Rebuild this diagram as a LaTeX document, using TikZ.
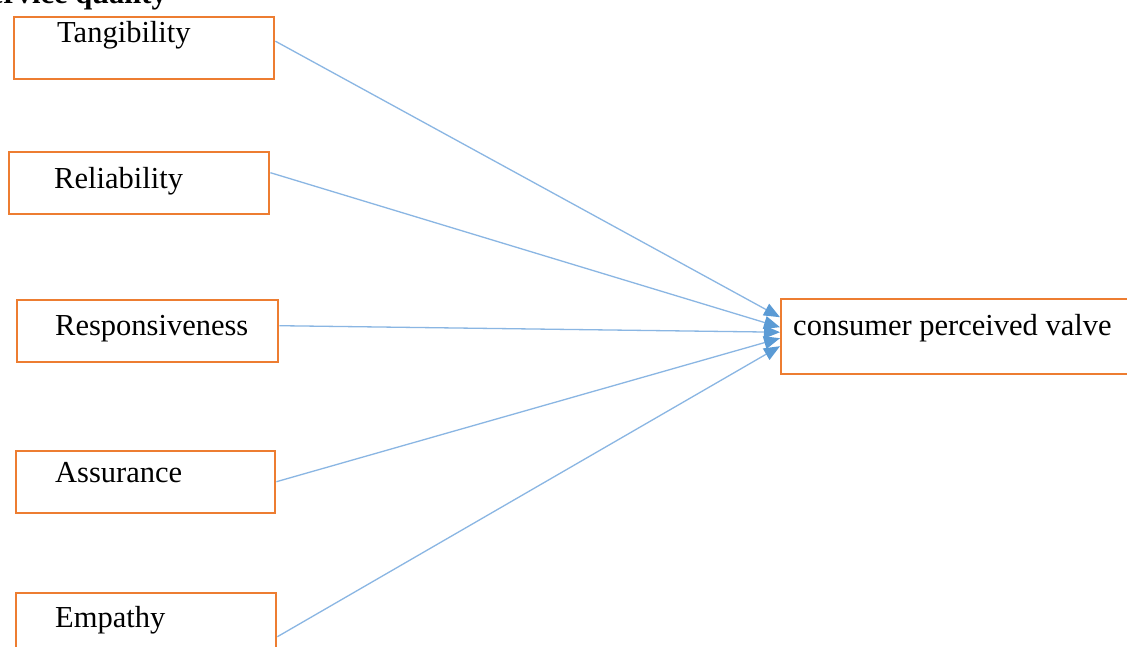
\documentclass[tikz,border=0pt]{standalone}
\usepackage{fontspec}
\setmainfont{Liberation Serif}
\usetikzlibrary{arrows.meta}
\definecolor{boxorange}{HTML}{ED7D31}
\definecolor{linkblue}{HTML}{8AB6E3}
\definecolor{tipblue}{HTML}{5B9BD5}
\tikzset{
  factor/.style={draw=boxorange, line width=2.4pt, minimum width=260pt, minimum height=62pt, inner sep=0pt, anchor=north west},
  target/.style={draw=boxorange, line width=2.4pt, minimum width=380pt, minimum height=75pt, inner sep=0pt, anchor=north west},
  lbl/.style={anchor=base west, inner sep=0pt, font=\fontsize{30.5pt}{35pt}\selectfont},
  conn/.style={draw=linkblue, line width=1.3pt, -{Triangle[length=16pt,width=13pt,color=tipblue,fill=tipblue]}}
}
\begin{document}
\begin{tikzpicture}[x=1pt,y=-1pt]
\fill[white] (0,0) rectangle (1127,646);
\useasboundingbox (0,0) rectangle (1127,646);
\clip (0,0) rectangle (1127,646);
\node[anchor=base east, inner sep=0pt, font=\fontsize{30.5pt}{35pt}\selectfont\bfseries] (title) at (167,3) {Service quality};
\node[factor] (t) at (13,16) {};
\node[factor] (r) at (8,151) {};
\node[factor, minimum width=261pt] (rs) at (16,299) {};
\node[factor, minimum width=259pt] (a) at (15,450) {};
\node[factor] (e) at (15,592) {};
\node[target] (c) at (780,298) {};
\node[lbl] (tl) at (57,42) {Tangibility};
\node[lbl] (rl) at (54,188) {Reliability};
\node[lbl] (rsl) at (55,335) {Responsiveness};
\node[lbl] (al) at (55,482) {Assurance};
\node[lbl] (el) at (55,627) {Empathy};
\node[lbl] (cl) at (793,335) {consumer perceived valve};
\draw[conn] ([yshift=7pt]t.east) -- ([yshift=19.5pt]c.west);
\draw[conn] ([yshift=10.5pt]r.east) -- ([yshift=9.5pt]c.west);
\draw[conn] ([yshift=5.5pt]rs.east) -- ([yshift=4.5pt]c.west);
\draw[conn] ([yshift=0.5pt]a.east) -- ([yshift=-1.5pt]c.west);
\draw[conn] ([yshift=-12.5pt]e.east) -- ([yshift=-9.5pt]c.west);
\end{tikzpicture}
\end{document}
